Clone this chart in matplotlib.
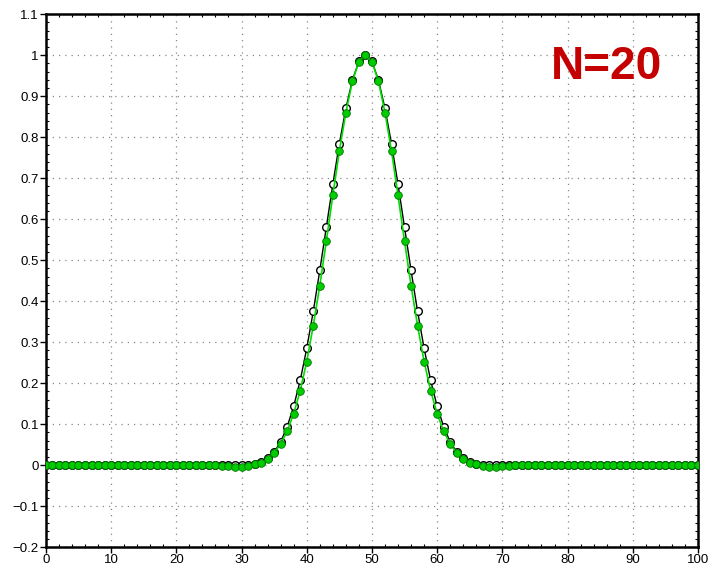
import numpy as np
import matplotlib
matplotlib.use('Agg')
import matplotlib.pyplot as plt
from matplotlib.ticker import MultipleLocator

plt.rcParams['font.family'] = ['Liberation Sans', 'DejaVu Sans']

# grid index 0..100
x = np.arange(0, 101)

# reference profile (open circles)
exact = [0.0] * 31 + [
    0.001, 0.003, 0.008, 0.017, 0.032, 0.057, 0.094, 0.144, 0.207, 0.285,
    0.375, 0.475, 0.580, 0.685, 0.784, 0.870, 0.939, 0.985, 1.000, 0.985,
    0.939, 0.870, 0.784, 0.685, 0.580, 0.475, 0.375, 0.285, 0.207, 0.144,
    0.094, 0.057, 0.032, 0.017, 0.008, 0.003, 0.001,
] + [0.0] * 33

# numerical result after N=20 steps (filled green)
numeric = [0.0] * 27 + [
    -0.001, -0.002, -0.003, -0.003, -0.001,
    0.002, 0.006, 0.015, 0.030, 0.052, 0.083, 0.126, 0.182, 0.253, 0.340,
    0.438, 0.546, 0.658, 0.766, 0.860, 0.936, 0.984, 1.000, 0.984, 0.936,
    0.860, 0.766, 0.658, 0.546, 0.438, 0.340, 0.253, 0.182, 0.126, 0.083,
    0.052, 0.030, 0.015, 0.006, 0.002,
    -0.001, -0.003, -0.003, -0.002, -0.001,
] + [0.0] * 29

yticks = [-0.2, -0.1, 0, 0.1, 0.2, 0.3, 0.4, 0.5, 0.6, 0.7, 0.8, 0.9, 1, 1.1]
label = 'N=20'

fig = plt.figure(figsize=(7.17, 5.66), dpi=100)
ax = fig.add_axes([0.064, 0.033, 0.9095, 0.942])

ax.plot(x, exact, color='black', lw=1.0, marker='o', markersize=5.5,
        markerfacecolor='white', markeredgecolor='black', markeredgewidth=1.0, zorder=3)
ax.plot(x, numeric, color='#00dd00', lw=1.2, marker='o', markersize=5.5,
        markerfacecolor='#00cc00', markeredgecolor='#007700', markeredgewidth=0.6, zorder=4)

ax.set_xlim(0, 100)
ax.set_ylim(-0.2, 1.1)
ax.xaxis.set_major_locator(MultipleLocator(10))
ax.xaxis.set_minor_locator(MultipleLocator(2))
ax.yaxis.set_minor_locator(MultipleLocator(0.02))
ax.set_yticks(yticks)
ax.set_yticklabels([('%g' % v).replace('-', '\u2212') for v in yticks])

ax.grid(True, which='major', linestyle=(0, (1, 4)), color='#888888', lw=0.9)
ax.tick_params(which='major', direction='out', length=4, width=1, labelsize=9.5, pad=1)
ax.tick_params(which='minor', direction='in', length=2.5, width=0.8,
               top=True, right=True)
for s in ax.spines.values():
    s.set_linewidth(1.8)

ax.text(86, 0.97, label, color='#c40000', fontsize=33, fontweight='bold',
        ha='center', va='center', zorder=5)

fig.savefig('out.png', dpi=100)
